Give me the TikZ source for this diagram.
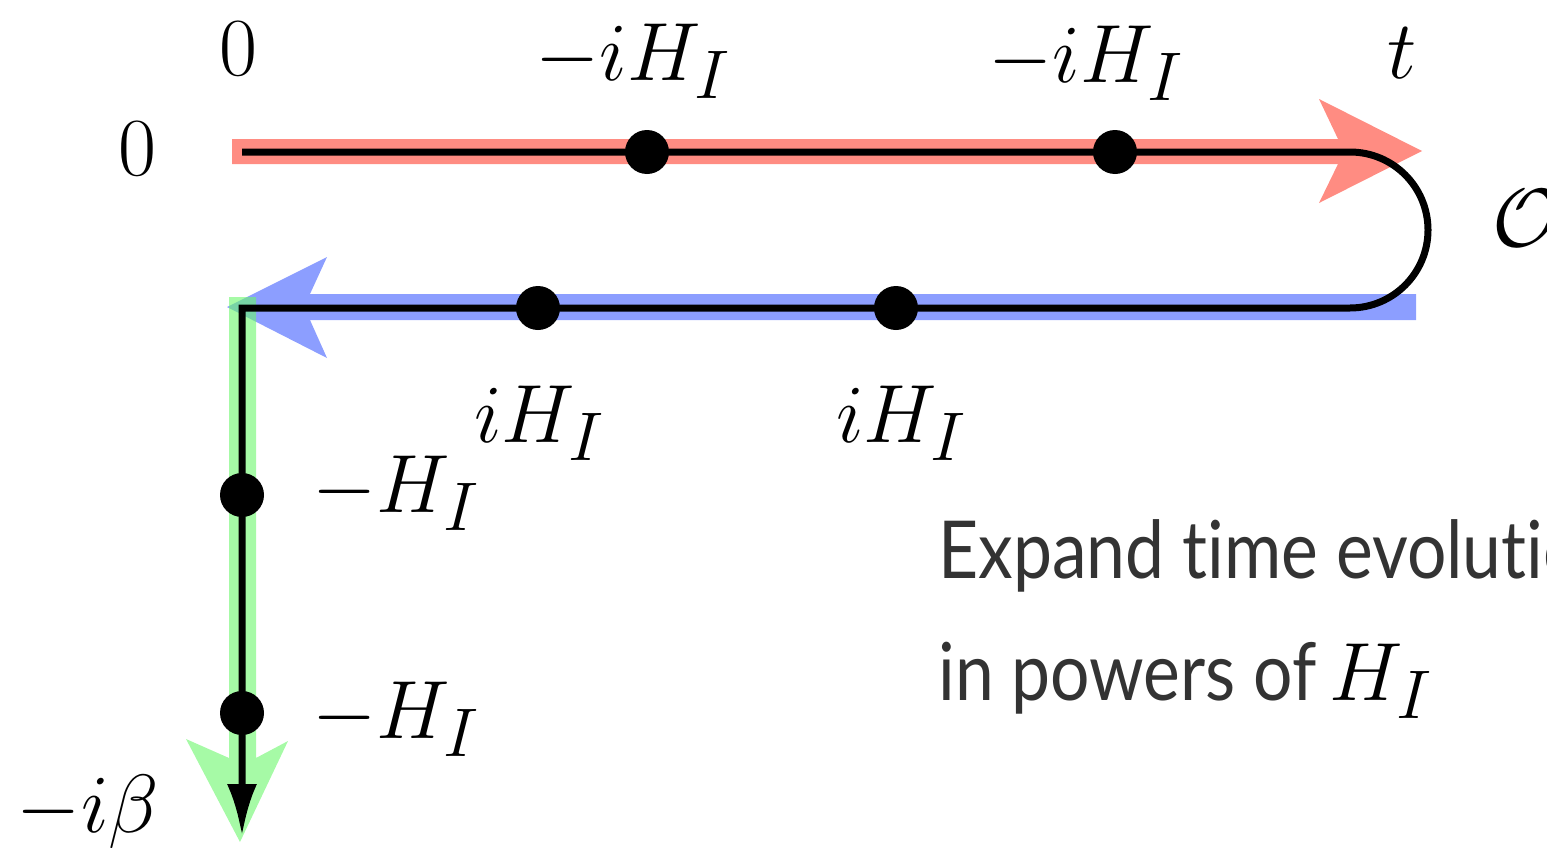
\documentclass[tikz,border=0pt]{standalone}
\usepackage{fontspec}
\newfontfamily\gill[Ligatures={NoCommon,NoContextual}]{Lato}
\usetikzlibrary{arrows.meta}
\definecolor{bandred}{RGB}{255,140,130}
\definecolor{bandblue}{RGB}{63,93,255}
\definecolor{bandgreen}{RGB}{107,247,107}
\definecolor{txtgray}{RGB}{51,51,51}
\tikzset{
  lbl/.style={inner sep=0pt, font=\fontsize{24.88}{30}\selectfont, scale=1.66, transform shape},
  dot/.style={circle, fill=black, inner sep=0pt, minimum size=22pt},
  contour/.style={line width=3.5pt, line join=miter},
  expl/.style={inner sep=0pt, anchor=base west, text=txtgray, font=\gill\fontsize{40}{48}\selectfont, transform shape, xscale=0.87}
}
\begin{document}
\begin{tikzpicture}[x=0.5pt, y=-0.5pt]
\path[use as bounding box, clip] (0,0) rectangle (1547,851);
% coloured bands
\fill[bandred] (232,139) -- (1338,139) -- (1319,99) -- (1422,151) -- (1319,203) -- (1338,164) -- (232,164) -- cycle;
\fill[bandblue, fill opacity=0.6] (1416,294) -- (310,294) -- (327,257) -- (227,307) -- (327,358) -- (310,320) -- (1416,320) -- cycle;
\fill[bandgreen, fill opacity=0.6] (229,297) -- (229,758) -- (186,739) -- (240,842) -- (288,741) -- (256,758) -- (256,297) -- cycle;
% contour
\coordinate (start) at (242,152);
\coordinate (turn1) at (1350,152);
\coordinate (turn2) at (1350,308);
\coordinate (corner) at (242,308);
\coordinate (end) at (242,836);
\draw[contour, -{Latex[length=26pt,width=15pt]}] (start) -- (turn1) arc[start angle=-90, end angle=90, radius=78] -- (corner) -- (end);
% dots
\node[dot] (d1) at (647,152) {};
\node[dot] (d2) at (1115,152) {};
\node[dot] (d3) at (538,308) {};
\node[dot] (d4) at (896,308) {};
\node[dot] (d5) at (242,495) {};
\node[dot] (d6) at (242,713) {};
% labels
\node[lbl, anchor=base] (ltop0) at (238,75) {$0$};
\node[lbl, anchor=base] (lleft0) at (137,175) {$0$};
\node[lbl, anchor=base] (l1) at (633,80) {$-iH_I$};
\node[lbl, anchor=base] (l2) at (1086,82) {$-iH_I$};
\node[lbl, anchor=base] (lt) at (1402,78) {$t$};
\node[lbl, anchor=base west] (lO) at (1492,246) {$\mathcal{O}$};
\node[lbl, anchor=base] (l3) at (540,442) {$iH_I$};
\node[lbl, anchor=base] (l4) at (902,442) {$iH_I$};
\node[lbl, anchor=base west] (l5) at (312,512) {$-H_I$};
\node[lbl, anchor=base west] (l6) at (312,738) {$-H_I$};
\node[lbl, anchor=base] (lb) at (88,832) {$-i\beta$};
% explanation
\node[expl] (e1) at (938,578) {Expand time evolution};
\node[expl] (e2) at (938,700) {in powers of};
\node[lbl, anchor=base west] (e3) at ([xshift=6pt]e2.base east) {$H_I$};
\end{tikzpicture}
\end{document}
